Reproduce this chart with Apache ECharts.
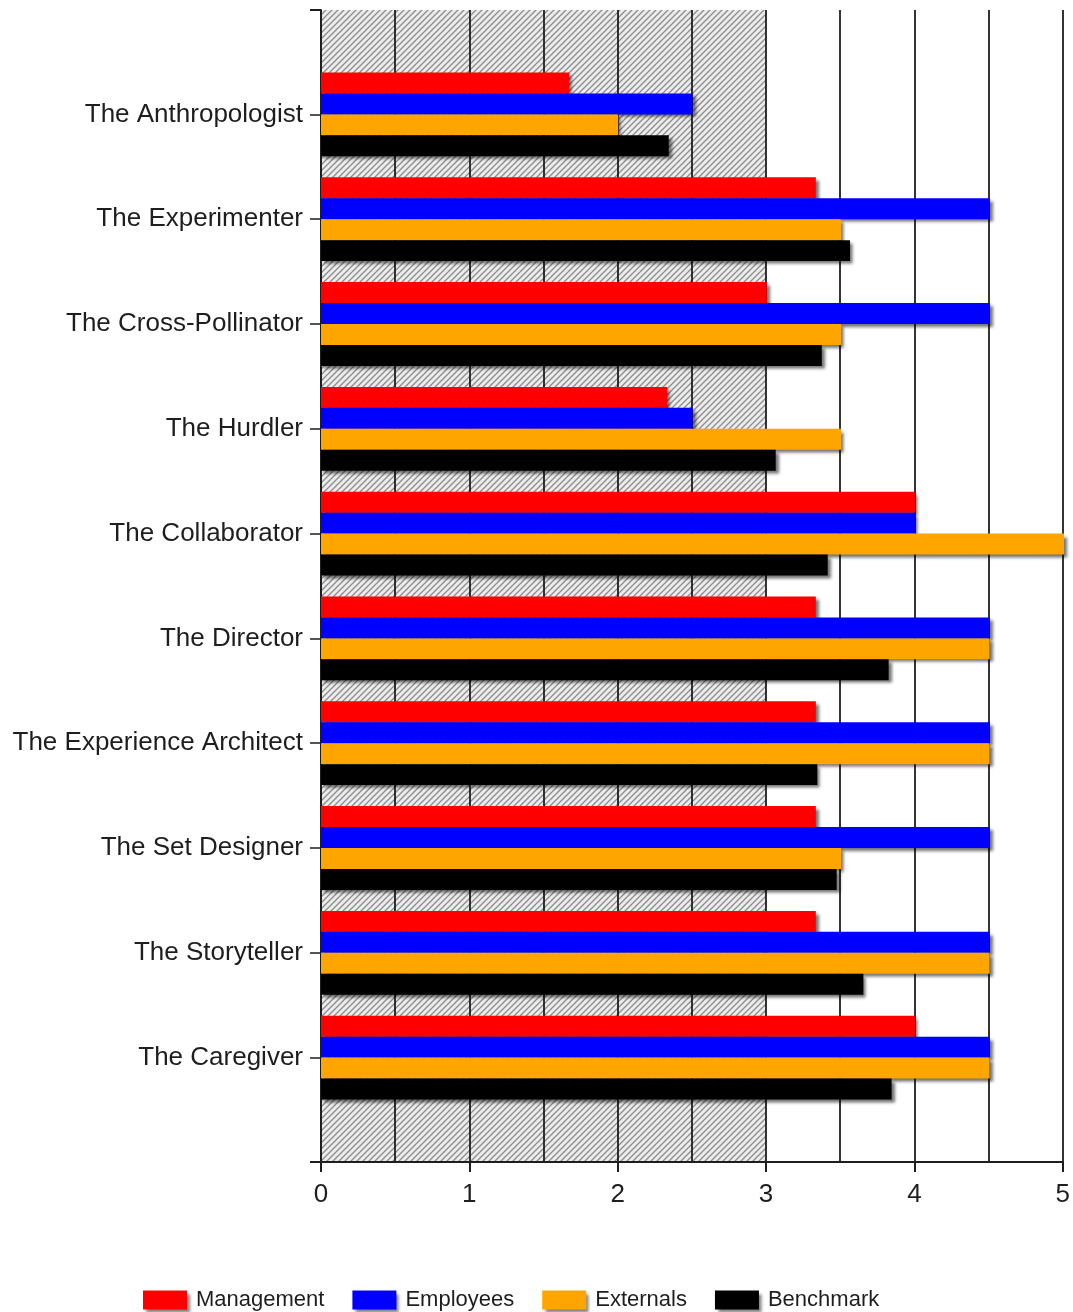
<!DOCTYPE html>
<html>
<head>
<meta charset="utf-8">
<script src="https://cdn.jsdelivr.net/npm/echarts@6/dist/echarts.min.js"></script>
<style>
  html, body { margin: 0; padding: 0; background: #fff; }
  #chart { width: 1073px; height: 1312px; }
</style>
</head>
<body>
<div id="chart"></div>
<script>
var categories = [
  'The Anthropologist', 'The Experimenter', 'The Cross-Pollinator', 'The Hurdler',
  'The Collaborator', 'The Director', 'The Experience Architect', 'The Set Designer',
  'The Storyteller', 'The Caregiver'
]
var management = [1.67, 3.33, 3.0, 2.33, 4.0, 3.33, 3.33, 3.33, 3.33, 4.0]
var employees = [2.5, 4.5, 4.5, 2.5, 4.0, 4.5, 4.5, 4.5, 4.5, 4.5]
var externals = [2.0, 3.5, 3.5, 3.5, 5.0, 4.5, 4.5, 3.5, 4.5, 4.5]
var benchmark = [2.34, 3.56, 3.37, 3.06, 3.41, 3.82, 3.34, 3.47, 3.65, 3.84]
var hatchRange = [0, 3]

// diagonal hatch pattern
var pat = document.createElement('canvas')
pat.width = 6
pat.height = 6
var ctx = pat.getContext('2d')
ctx.fillStyle = '#ececec'
ctx.fillRect(0, 0, 6, 6)
ctx.strokeStyle = '#8c8c8c'
ctx.lineWidth = 1.3
ctx.beginPath()
ctx.moveTo(0, 6); ctx.lineTo(6, 0)
ctx.moveTo(-1, 1); ctx.lineTo(1, -1)
ctx.moveTo(5, 7); ctx.lineTo(7, 5)
ctx.stroke()

var font = 'Liberation Sans, Arial, sans-serif'
var ink = '#1e1e1e'

function barSeries(name, color, data) {
  return {
    name: name,
    type: 'bar',
    xAxisIndex: 1,
    yAxisIndex: 1,
    data: data,
    barGap: 0,
    barCategoryGap: '20%',
    z: 3,
    itemStyle: {
      color: color,
      shadowColor: 'rgba(0,0,0,0.55)',
      shadowBlur: 3,
      shadowOffsetX: 3,
      shadowOffsetY: 3
    }
  }
}

var chart = echarts.init(document.getElementById('chart'))
chart.setOption({
  animation: false,
  textStyle: { fontFamily: font },
  grid: [
    { left: 321, right: 9, top: 10, bottom: 150 },
    { left: 321, right: 9, top: 62, height: 1048 }
  ],
  xAxis: [
    {
      type: 'value',
      gridIndex: 0,
      min: 0,
      max: 5,
      interval: 1,
      z: 2,
      axisLine: { show: true, lineStyle: { color: ink, width: 2 } },
      axisTick: { show: true, length: 10, lineStyle: { color: ink, width: 2 } },
      axisLabel: { fontSize: 26, color: ink, margin: 20, fontFamily: font },
      splitLine: { show: true, lineStyle: { color: ink, width: 1.8 } },
      minorTick: { show: false, splitNumber: 2 },
      minorSplitLine: { show: true, lineStyle: { color: ink, width: 1.8 } }
    },
    {
      type: 'value',
      gridIndex: 1,
      min: 0,
      max: 5,
      show: false
    }
  ],
  yAxis: [
    {
      type: 'value',
      gridIndex: 0,
      min: 0,
      max: 1,
      interval: 1,
      z: 2,
      axisLine: { show: true, lineStyle: { color: ink, width: 2 } },
      axisTick: { show: true, length: 11, lineStyle: { color: ink, width: 2 } },
      axisLabel: { show: false },
      splitLine: { show: false }
    },
    {
      type: 'category',
      gridIndex: 1,
      inverse: true,
      data: categories,
      axisLine: { show: false },
      axisTick: { show: true, alignWithLabel: true, length: 11, lineStyle: { color: ink, width: 1.5 } },
      axisLabel: { fontSize: 26, color: ink, margin: 18, fontFamily: font }
    }
  ],
  legend: {
    data: ['Management', 'Employees', 'Externals', 'Benchmark'],
    left: 143,
    bottom: 1,
    padding: 0,
    itemWidth: 44,
    itemHeight: 19,
    itemGap: 28,
    icon: 'rect',
    textStyle: { fontSize: 22, color: ink, fontFamily: font, padding: [0, 0, 0, 4] },
    itemStyle: {
      shadowColor: 'rgba(0,0,0,0.5)',
      shadowBlur: 3,
      shadowOffsetX: 3,
      shadowOffsetY: 3
    }
  },
  series: [
    {
      type: 'line',
      xAxisIndex: 0,
      yAxisIndex: 0,
      data: [],
      silent: true,
      z: 1,
      markArea: {
        silent: true,
        z: 1,
        itemStyle: { color: { image: pat, repeat: 'repeat' }, borderWidth: 0 },
        data: [[{ xAxis: hatchRange[0] }, { xAxis: hatchRange[1] }]]
      }
    },
    barSeries('Management', '#ff0000', management),
    barSeries('Employees', '#0000ff', employees),
    barSeries('Externals', '#ffa500', externals),
    barSeries('Benchmark', '#000000', benchmark)
  ]
})
</script>
</body>
</html>
